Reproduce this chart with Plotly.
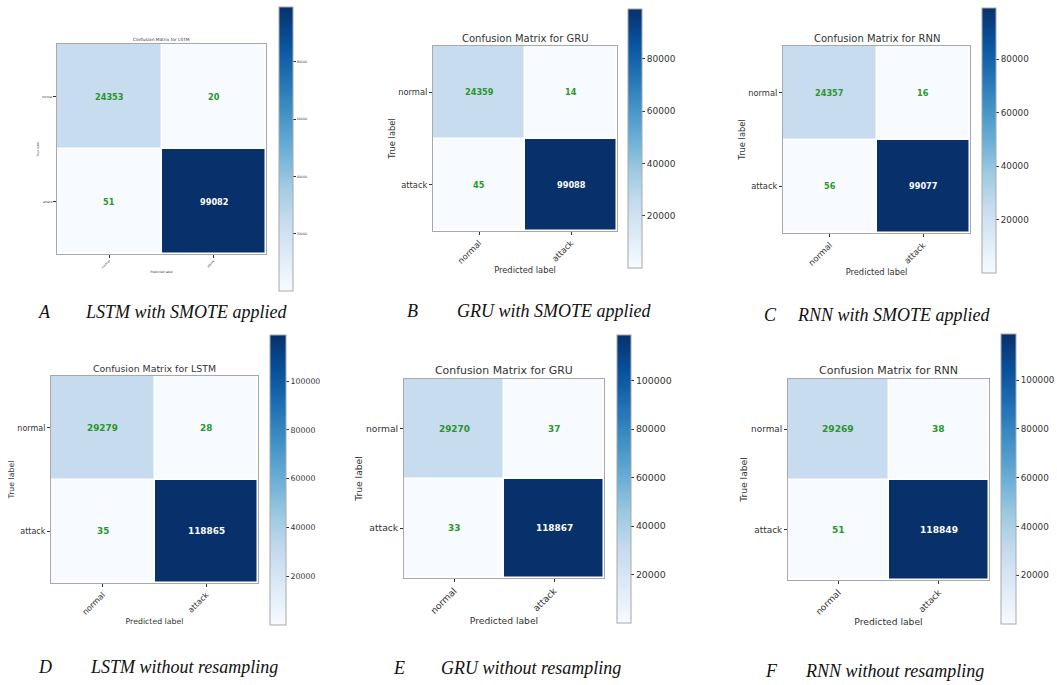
import plotly.graph_objects as go

W, H = 1057, 685

classes = ["normal", "attack"]
titles = ["Confusion Matrix for LSTM", "Confusion Matrix for GRU", "Confusion Matrix for RNN",
          "Confusion Matrix for LSTM", "Confusion Matrix for GRU", "Confusion Matrix for RNN"]
letters = ["A", "B", "C", "D", "E", "F"]
captions = ["LSTM with SMOTE applied", "GRU with SMOTE applied", "RNN with SMOTE applied",
            "LSTM without resampling", "GRU without resampling", "RNN without resampling"]

cm_A = [[24353, 20], [51, 99082]]
cm_B = [[24359, 14], [45, 99088]]
cm_C = [[24357, 16], [56, 99077]]
cm_D = [[29279, 28], [35, 118865]]
cm_E = [[29270, 37], [33, 118867]]
cm_F = [[29269, 38], [51, 118849]]
matrices = [cm_A, cm_B, cm_C, cm_D, cm_E, cm_F]

cb_ticks_top = [20000, 40000, 60000, 80000]
cb_ticks_bottom = [20000, 40000, 60000, 80000, 100000]

# layout (pixels): heatmap box [x0, x1, y0, y1], colorbar box [x0, x1, y0, y1]
boxes = [
    dict(hm=(57, 266, 44, 254), cb=(279, 293, 7, 291), cap=(36, 83, 312)),
    dict(hm=(433, 617, 46, 231), cb=(628, 642, 9, 268), cap=(405, 455, 311)),
    dict(hm=(783, 970, 46, 233), cb=(982, 996, 8, 273), cap=(762, 795, 315)),
    dict(hm=(51, 258, 376, 583), cb=(270, 286, 335, 625), cap=(36, 88, 667)),
    dict(hm=(404, 604, 379, 578), cb=(617, 631, 335, 623), cap=(391, 439, 668)),
    dict(hm=(788, 989, 379, 580), cb=(1001, 1016, 334, 624), cap=(763, 803, 671)),
]
# font sizes: title, ticks, axis titles, colorbar ticks, cell numbers
fonts = [
    (4.3, 3, 3, 3.3, 8.2),
    (10, 8.3, 8.3, 9, 8.2),
    (10, 8.3, 8.3, 8.8, 8.2),
    (9.4, 8, 7.8, 7.8, 8.9),
    (10.9, 9.2, 9.2, 9.4, 8.9),
    (11, 8.9, 9.2, 8.8, 9.1),
]
standoffs = [(2, 2), (2, 1), (2, 1), (2, 1), (2, 1), (2, 1)]

blues = ['rgb(247,251,255)', 'rgb(222,235,247)', 'rgb(198,219,239)', 'rgb(158,202,225)',
         'rgb(107,174,214)', 'rgb(66,146,198)', 'rgb(33,113,181)', 'rgb(8,81,156)', 'rgb(8,48,107)']
colorscale = [[i / (len(blues) - 1), c] for i, c in enumerate(blues)]

FONT = "DejaVu Sans"
TXT = "#333333"
SPINE = "#a8a8a8"

def fx(p):
    return p / W

def fy(p):
    return 1 - p / H

fig = go.Figure()
annotations = []
layout_axes = {}

for i, cm in enumerate(matrices):
    n = i + 1
    xa = "x" if n == 1 else f"x{n}"
    ya = "y" if n == 1 else f"y{n}"
    b = boxes[i]
    ft, fk, fa, fc, fn = fonts[i]
    hx0, hx1, hy0, hy1 = b["hm"]
    cx0, cx1, cy0, cy1 = b["cb"]
    ticks = cb_ticks_top if i < 3 else cb_ticks_bottom
    fig.add_trace(go.Heatmap(
        z=cm, x=classes, y=classes, xaxis=xa, yaxis=ya,
        colorscale=colorscale, xgap=1.5, ygap=1.5, hoverinfo="z",
        colorbar=dict(
            x=fx(cx0), xanchor="left", xpad=0, ypad=0,
            y=fy(cy0), yanchor="top", len=(cy1 - cy0), lenmode="pixels",
            thickness=(cx1 - cx0), thicknessmode="pixels",
            outlinewidth=1, outlinecolor=SPINE,
            tickvals=ticks, tickformat="d", ticks="outside", ticklen=3, tickcolor=TXT,
            tickfont=dict(family=FONT, size=fc, color=TXT),
        ),
    ))
    vmax = max(max(r) for r in cm)
    thresh = vmax / 2
    for r in range(2):
        for c in range(2):
            v = cm[r][c]
            annotations.append(dict(
                x=classes[c], y=classes[r], xref=xa, yref=ya, text=f"<b>{v}</b>",
                showarrow=False,
                font=dict(family=FONT, size=fn, color="white" if v > thresh else "#2a962a"),
            ))
    ax_common = dict(showgrid=False, zeroline=False, showline=True, mirror=True,
                     linecolor=SPINE, linewidth=1, ticks="outside", ticklen=3,
                     tickcolor=TXT, tickfont=dict(family=FONT, size=fk, color=TXT),
                     automargin=False, fixedrange=True)
    layout_axes["xaxis" if n == 1 else f"xaxis{n}"] = dict(
        ax_common, domain=[fx(hx0), fx(hx1)], anchor=ya, tickangle=-45,
        categoryorder="array", categoryarray=classes,
        title=dict(text="Predicted label", font=dict(family=FONT, size=fa, color=TXT),
                   standoff=standoffs[i][0]),
    )
    layout_axes["yaxis" if n == 1 else f"yaxis{n}"] = dict(
        ax_common, domain=[fy(hy1), fy(hy0)], anchor=xa, autorange="reversed",
        categoryorder="array", categoryarray=classes,
        title=dict(text="True label", font=dict(family=FONT, size=fa, color=TXT),
                   standoff=standoffs[i][1]),
    )
    # panel title
    annotations.append(dict(
        x=fx((hx0 + hx1) / 2), y=fy(hy0), xref="paper", yref="paper",
        xanchor="center", yanchor="bottom", yshift=0, showarrow=False,
        text=titles[i], font=dict(family=FONT, size=ft, color=TXT),
    ))
    # caption
    lx, tx, cyp = b["cap"]
    annotations.append(dict(
        x=fx(lx), y=fy(cyp), xref="paper", yref="paper", xanchor="left", yanchor="middle",
        showarrow=False, text=f"<i>{letters[i]}</i>",
        font=dict(family="Liberation Serif", size=18, color="#111111"),
    ))
    annotations.append(dict(
        x=fx(tx), y=fy(cyp), xref="paper", yref="paper", xanchor="left", yanchor="middle",
        showarrow=False, text=f"<i>{captions[i]}</i>",
        font=dict(family="Liberation Serif", size=18, color="#111111"),
    ))

fig.update_layout(
    width=W, height=H,
    margin=dict(l=0, r=0, t=0, b=0),
    paper_bgcolor="white", plot_bgcolor="white",
    showlegend=False,
    annotations=annotations,
    **layout_axes,
)

fig.write_html("out.html", config={"displayModeBar": False},
               post_script="document.body.style.margin='0px';")
